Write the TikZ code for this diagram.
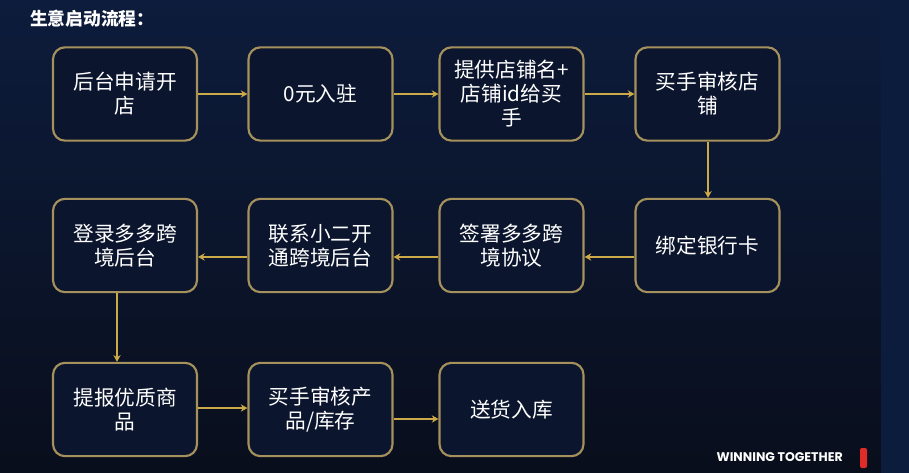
\documentclass[tikz,border=0pt]{standalone}
\usepackage{fontspec}
\newfontfamily\cjk{Noto Sans CJK SC}
\newfontfamily\winfont{Poppins}
\usetikzlibrary{arrows.meta}
\definecolor{bgtop}{RGB}{13,28,60}
\definecolor{bgbot}{RGB}{9,14,28}
\definecolor{bgstrip}{RGB}{12,28,60}
\definecolor{boxfill}{RGB}{11,21,45}
\definecolor{boxline}{RGB}{165,145,92}
\definecolor{flowline}{RGB}{205,170,72}
\definecolor{barred}{RGB}{224,44,40}
\tikzset{
  stepbox/.style={draw=boxline, line width=1.6pt, fill=boxfill, rounded corners=9pt,
    minimum width=108pt, minimum height=70pt, align=center, text=white,
    font=\cjk\fontsize{15.5}{18}\selectfont, inner sep=2pt},
  flow/.style={draw=flowline, line width=1.5pt, -{Stealth[length=5pt,width=5.5pt]}}
}
\begin{document}
\begin{tikzpicture}[x=0.75pt,y=0.75pt,yscale=-1,xscale=1]
\useasboundingbox (0,0) rectangle (909,473);

%Background
\shade [top color=bgtop, bottom color=bgbot] (0,0) rectangle (881,473);
\fill [bgstrip] (881,0) rectangle (909,473);

% Title
\node [anchor=west, text=white, font=\cjk\bfseries\fontsize{13.3}{15}\selectfont, inner sep=0pt] (title) at (30,19) {生意启动流程：};

%Row 1
\node [stepbox] (apply) at (125,94) {后台申请开\\店};
\node [stepbox] (enter) at (320.5,94) {0元入驻};
\node [stepbox] (shopid) at (511.5,94) {提供店铺名+\\店铺id给买\\手};
\node [stepbox] (review) at (707.5,94) {买手审核店\\铺};
%Row 2
\node [stepbox] (bank) at (707.5,245.5) {绑定银行卡};
\node [stepbox] (sign) at (511.5,245.5) {签署多多跨\\境协议};
\node [stepbox] (contact) at (320.5,245.5) {联系小二开\\通跨境后台};
\node [stepbox] (login) at (125,245.5) {登录多多跨\\境后台};
%Row 3
\node [stepbox] (goods) at (125,409.5) {提报优质商\\品};
\node [stepbox] (stock) at (320.5,409.5) {买手审核产\\品/库存};
\node [stepbox] (ship) at (511.5,409.5) {送货入库};

%Arrows (yshift is flipped by yscale=-1: positive goes down)
\draw [flow] (apply) -- (enter);
\draw [flow] (enter) -- (shopid);
\draw [flow] (shopid) -- (review);
\draw [flow] ([xshift=0.4pt]review.south) -- ([xshift=0.4pt]bank.north);
\draw [flow] ([yshift=8.6pt]bank.west) -- ([yshift=8.6pt]sign.east);
\draw [flow] ([yshift=8.6pt]sign.west) -- ([yshift=8.6pt]contact.east);
\draw [flow] ([yshift=8.6pt]contact.west) -- ([yshift=8.6pt]login.east);
\draw [flow] ([xshift=-6pt]login.south) -- ([xshift=-6pt]goods.north);
\draw [flow] ([yshift=-1.1pt]goods.east) -- ([yshift=-1.1pt]stock.west);
\draw [flow] ([yshift=7.1pt]stock.east) -- ([yshift=7.1pt]ship.west);

% Footer
\node [anchor=east, text=white, font=\winfont\bfseries\fontsize{9.4}{11}\selectfont, inner sep=0pt] (slogan) at (843,457.5) {WINNING TOGETHER};
\fill [barred, rounded corners=1.5pt] (860,448) rectangle (867,468);

\end{tikzpicture}
\end{document}
